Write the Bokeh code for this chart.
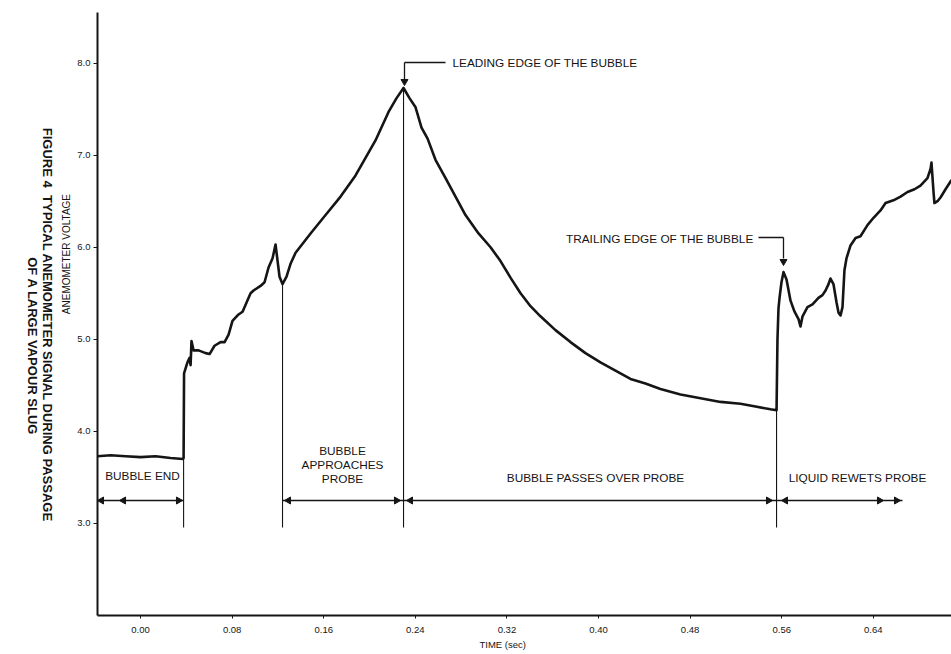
import numpy as np
from bokeh.plotting import figure
from bokeh.layouts import row
from bokeh.models import Label, Range1d, FixedTicker, Title
from bokeh.embed import file_html
from bokeh.resources import INLINE

# ---------------- data ----------------
time_s = [-0.0376, -0.0262, -0.0131, 0.0, 0.0131, 0.0262, 0.0370, 0.0376,
          0.0380, 0.0402, 0.0410, 0.0428, 0.0437, 0.0445, 0.0463, 0.0507, 0.0568,
          0.0603, 0.0646, 0.0699, 0.0734, 0.0769, 0.0803, 0.0856, 0.0891, 0.0926,
          0.0961, 0.0987, 0.1048, 0.1083, 0.1118, 0.1153, 0.1179, 0.1197, 0.1214,
          0.1240, 0.1275, 0.1310, 0.1354, 0.1485, 0.1616, 0.1747, 0.1878, 0.1965,
          0.2052, 0.2166, 0.2236, 0.2297, 0.2349, 0.2402, 0.2454, 0.2507, 0.2576,
          0.2664, 0.2751, 0.2838, 0.2952, 0.3057, 0.3144, 0.3231, 0.3319, 0.3406,
          0.3493, 0.3624, 0.3755, 0.3886, 0.4017, 0.4148, 0.4279, 0.4410, 0.4541,
          0.4716, 0.4891, 0.5066, 0.5240, 0.5371, 0.5502, 0.5555, 0.5563, 0.5572,
          0.5581, 0.5598, 0.5616, 0.5642, 0.5677, 0.5712, 0.5747, 0.5764, 0.5782,
          0.5825, 0.5869, 0.5921, 0.5956, 0.5983, 0.6009, 0.6026, 0.6052, 0.6079,
          0.6096, 0.6114, 0.6131, 0.6148, 0.6166, 0.6201, 0.6245, 0.6288, 0.6349,
          0.6402, 0.6463, 0.6507, 0.6576, 0.6638, 0.6699, 0.6760, 0.6812, 0.6873,
          0.6900, 0.6908, 0.6926, 0.6934, 0.6961, 0.6987, 0.7031, 0.7083]
voltage = [3.73, 3.74, 3.73, 3.72, 3.73, 3.71, 3.70, 3.71,
           4.63, 4.72, 4.75, 4.80, 4.72, 4.98, 4.88, 4.88, 4.85,
           4.84, 4.93, 4.97, 4.97, 5.05, 5.20, 5.27, 5.30, 5.40,
           5.50, 5.53, 5.58, 5.62, 5.78, 5.88, 6.03, 5.85, 5.68,
           5.60, 5.68, 5.82, 5.94, 6.15, 6.35, 6.55, 6.78, 6.97,
           7.16, 7.47, 7.62, 7.73, 7.62, 7.52, 7.30, 7.18, 6.95,
           6.75, 6.55, 6.35, 6.15, 6.00, 5.85, 5.67, 5.50, 5.36,
           5.25, 5.10, 4.97, 4.85, 4.75, 4.66, 4.57, 4.52, 4.46,
           4.40, 4.36, 4.32, 4.30, 4.27, 4.24, 4.23, 5.00, 5.34,
           5.45, 5.62, 5.73, 5.65, 5.42, 5.30, 5.22, 5.14, 5.25,
           5.35, 5.38, 5.45, 5.48, 5.53, 5.60, 5.66, 5.60, 5.40,
           5.29, 5.26, 5.35, 5.75, 5.88, 6.02, 6.10, 6.12, 6.24,
           6.32, 6.40, 6.48, 6.51, 6.55, 6.60, 6.63, 6.67, 6.75,
           6.85, 6.92, 6.60, 6.48, 6.50, 6.54, 6.63, 6.73]

x_ticks = [0.00, 0.08, 0.16, 0.24, 0.32, 0.40, 0.48, 0.56, 0.64]
x_tick_labels = ["0.00", "0.08", "0.16", "0.24", "0.32", "0.40", "0.48", "0.56", "0.64"]
y_ticks = [3.0, 4.0, 5.0, 6.0, 7.0, 8.0]
y_tick_labels = ["3.0", "4.0", "5.0", "6.0", "7.0", "8.0"]

event_times = [0.0376, 0.1240, 0.2297, 0.5555]
phase_names = ["BUBBLE END", "BUBBLE\nAPPROACHES\nPROBE", "BUBBLE PASSES OVER PROBE",
               "LIQUID REWETS PROBE"]
phase_start = [-0.0376, 0.1240, 0.2297, 0.5555]
phase_end = [0.0376, 0.2297, 0.5555, 0.6655]

# ---------------- layout helpers (page pixel -> data / screen) ----------------
W, H = 951, 654
CAPW = 72                                   # width of the caption strip
FL, FR, FT, FB = 97, 951, 12, 615          # frame edges in page pixels
X0, X1 = -0.0376, 0.7083
Y0, Y1 = 2.0, 8.55


def tx(px):
    return X0 + (px - FL) * (X1 - X0) / (FR - FL)


def vy(py):
    return Y0 + (FB - py) * (Y1 - Y0) / (FB - FT)


def sx(px):
    return px - FL


def sy(py):
    return FB - py


FONT = "Liberation Sans"
INK = "#151515"
ANN = "11.8px"

# ---------------- caption strip (left) ----------------
cap = figure(width=CAPW, height=H, x_range=Range1d(0, CAPW), y_range=Range1d(H, 0),
             output_backend="svg", toolbar_location=None,
             x_axis_location=None, y_axis_location=None, min_border=0)
cap.outline_line_color = None
cap.xgrid.visible = False
cap.ygrid.visible = False

cap.add_layout(Label(x=47, y=125, text="FIGURE 4", text_align="left",
                     text_baseline="middle", angle=-np.pi / 2, text_font=FONT,
                     text_font_size="13px", text_font_style="bold", text_color=INK))
cap.add_layout(Label(x=47, y=198, text="TYPICAL ANEMOMETER SIGNAL DURING PASSAGE",
                     text_align="left", text_baseline="middle", angle=-np.pi / 2,
                     text_font=FONT, text_font_size="13px", text_font_style="bold",
                     text_color=INK))
cap.add_layout(Label(x=32, y=362, text="OF A LARGE VAPOUR SLUG",
                     text_align="center", text_baseline="middle", angle=-np.pi / 2,
                     text_font=FONT, text_font_size="13px", text_font_style="bold",
                     text_color=INK))
cap.add_layout(Label(x=66, y=262, text="ANEMOMETER VOLTAGE",
                     text_align="center", text_baseline="middle", angle=np.pi / 2,
                     text_font=FONT, text_font_size="10px", text_color=INK))

# ---------------- main chart ----------------
p = figure(width=W - CAPW, height=H, x_range=Range1d(X0, X1), y_range=Range1d(Y0, Y1),
           output_backend="svg", toolbar_location=None,
           min_border_left=FL - CAPW, min_border_right=W - FR,
           min_border_top=FT, min_border_bottom=H - FB)
p.outline_line_color = None
p.xgrid.visible = False
p.ygrid.visible = False

for ax in (p.xaxis[0], p.yaxis[0]):
    ax.axis_line_color = INK
    ax.axis_line_width = 2
    ax.major_tick_line_color = INK
    ax.minor_tick_line_color = None
    ax.major_tick_in = 0
    ax.major_label_text_font = FONT
    ax.major_label_text_font_size = "9.5px"
    ax.major_label_text_color = INK

p.xaxis.ticker = FixedTicker(ticks=x_ticks)
p.xaxis.major_label_overrides = dict(zip(x_ticks, x_tick_labels))
p.xaxis.major_tick_out = 3
p.xaxis.major_label_standoff = 8
p.yaxis.ticker = FixedTicker(ticks=y_ticks)
p.yaxis.major_label_overrides = dict(zip(y_ticks, y_tick_labels))
p.yaxis.major_tick_out = 4
p.yaxis.major_label_standoff = 3

p.add_layout(Title(text="TIME (sec)", align="left", offset=382, standoff=3,
                   text_font=FONT, text_font_size="9.5px", text_font_style="normal",
                   text_color=INK), "below")

# signal trace
p.line(time_s, voltage, line_color=INK, line_width=2.6, line_join="round")

# vertical event markers, from the trace down to below the arrow row
event_v = np.interp(event_times, time_s, voltage)
for t, v in zip(event_times, event_v):
    p.line([t, t], [vy(527), v], line_color=INK, line_width=1.1)

# phase arrow rows
row_v = vy(500)
for s, e in zip(phase_start, phase_end):
    p.line([s, e], [row_v, row_v], line_color=INK, line_width=1.6)

heads_left = [101, 123, 288, 410, 785]
heads_right = [178, 396, 768, 879, 896]
p.scatter([tx(h) for h in heads_left], [row_v] * len(heads_left), marker="triangle",
          size=7, angle=np.pi / 2, fill_color=INK, line_color=INK)
p.scatter([tx(h) for h in heads_right], [row_v] * len(heads_right), marker="triangle",
          size=7, angle=-np.pi / 2, fill_color=INK, line_color=INK)

# phase labels
phase_pos = [(142, 475), (342, 464), (595, 477), (857, 477)]
for name, (cx, cy) in zip(phase_names, phase_pos):
    p.add_layout(Label(x=sx(cx), y=sy(cy), x_units="screen", y_units="screen", text=name,
                       text_align="center", text_baseline="middle", text_font=FONT,
                       text_font_size=ANN, text_color=INK, text_line_height=1.0))

# leading edge call-out
p.line([tx(404), tx(445)], [vy(62), vy(62)], line_color=INK, line_width=1.3)
p.line([tx(404), tx(404)], [vy(62), vy(79)], line_color=INK, line_width=1.3)
p.scatter([tx(404)], [vy(81)], marker="triangle", size=7, angle=np.pi,
          fill_color=INK, line_color=INK)
p.add_layout(Label(x=sx(452), y=sy(62), x_units="screen", y_units="screen",
                   text="LEADING EDGE OF THE BUBBLE", text_align="left",
                   text_baseline="middle", text_font=FONT, text_font_size=ANN,
                   text_color=INK))

# trailing edge call-out
p.line([tx(758), tx(783)], [vy(237), vy(237)], line_color=INK, line_width=1.3)
p.line([tx(783), tx(783)], [vy(237), vy(258)], line_color=INK, line_width=1.3)
p.scatter([tx(783)], [vy(261)], marker="triangle", size=7, angle=np.pi,
          fill_color=INK, line_color=INK)
p.add_layout(Label(x=sx(753), y=sy(238), x_units="screen", y_units="screen",
                   text="TRAILING EDGE OF THE BUBBLE", text_align="right",
                   text_baseline="middle", text_font=FONT, text_font_size=ANN,
                   text_color=INK))

open("out.html", "w").write(file_html(row(cap, p), INLINE))
